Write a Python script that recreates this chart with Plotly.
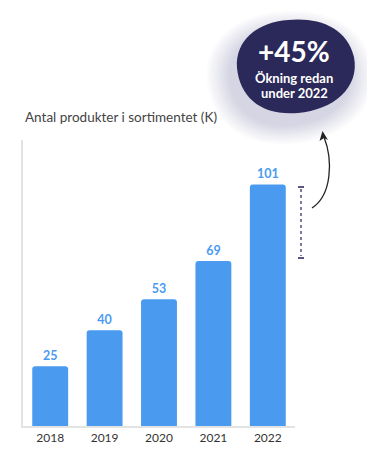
import plotly.graph_objects as go

years = ["2018", "2019", "2020", "2021", "2022"]
values = [25, 40, 53, 69, 101]
title_text = "Antal produkter i sortimentet (K)"
badge_big = "+45%"
badge_lines = ["Ökning redan", "under 2022"]

OFF = 8  # page body margin
W, H = 375 - OFF, 462 - OFF
L, R, T, B = 23, 295, 140, 426  # plot area in reference pixel coords

def px(x):
    return (x - L) / (R - L)

def py(y):
    return (B - y) / (B - T)

def blob_path(dx=0, dy=0, s=1.0, cx=295, cy=66):
    pts = [
        (288, 20),
        [(318, 17), (347, 27), (354, 57)],
        [(360, 88), (333, 110), (298, 113)],
        [(262, 116), (240, 98), (237, 68)],
        [(235, 40), (258, 22), (288, 20)],
    ]
    def tr(p):
        x = cx + (p[0] - cx) * s + dx
        y = cy + (p[1] - cy) * s + dy
        return f"{px(x):.5f},{py(y):.5f}"
    d = "M " + tr(pts[0])
    for seg in pts[1:]:
        d += " C " + " ".join(tr(p) for p in seg)
    return d + " Z"

fig = go.Figure()
fig.add_trace(go.Bar(
    x=years, y=values,
    marker=dict(color="#4a9bf0", line=dict(width=0)),
    text=[str(v) for v in values],
    textposition="outside",
    textfont=dict(color="#4a9bf0", size=12.5, family="Lato", weight="bold"),
    cliponaxis=False,
    hoverinfo="skip",
))

shapes = []
n = 14
for i in range(n):
    s = 1.42 - i * 0.03
    shapes.append(dict(type="path", xref="paper", yref="paper", path=blob_path(dx=-6, dy=11, s=s),
                       fillcolor="rgba(90,90,110,0.016)", line=dict(width=0), layer="above"))
shapes.append(dict(type="path", xref="paper", yref="paper", path=blob_path(),
                   fillcolor="#2b2959", line=dict(width=0), layer="above"))
# dotted range line
shapes.append(dict(type="line", xref="paper", yref="paper", x0=px(301), x1=px(301), y0=py(189), y1=py(256),
                   line=dict(color="#7c79a3", width=2, dash="dot")))
for yy in (187, 258):
    shapes.append(dict(type="line", xref="paper", yref="paper", x0=px(298), x1=px(304), y0=py(yy), y1=py(yy),
                       line=dict(color="#5a5785", width=2)))
# curved arrow
shapes.append(dict(type="path", xref="paper", yref="paper",
                   path=f"M {px(312)},{py(208)} C {px(332)},{py(195)} {px(333)},{py(160)} {px(324)},{py(137)}",
                   line=dict(color="#222222", width=1.3)))
shapes.append(dict(type="path", xref="paper", yref="paper",
                   path=f"M {px(322.5)},{py(131)} L {px(319.5)},{py(141)} L {px(324)},{py(138)} L {px(328)},{py(140)} Z",
                   fillcolor="#222222", line=dict(width=0)))

annotations = [
    dict(text=title_text, xref="paper", yref="paper", x=px(23), y=py(117), xanchor="left", yanchor="middle",
         showarrow=False, font=dict(size=13.5, color="#444444", family="Lato")),
    dict(text=f"<b>{badge_big}</b>", xref="paper", yref="paper", x=px(294), y=py(51), xanchor="center", yanchor="middle",
         showarrow=False, font=dict(size=28, color="white", family="Lato")),
]
for line_text, yy in zip(badge_lines, (78, 93)):
    annotations.append(dict(text=f"<b>{line_text}</b>", xref="paper", yref="paper", x=px(294), y=py(yy),
                            xanchor="center", yanchor="middle", showarrow=False,
                            font=dict(size=13, color="white", family="Lato")))

fig.update_layout(
    width=W, height=H,
    margin=dict(l=L - OFF, r=375 - R, t=T - OFF, b=462 - B),
    paper_bgcolor="white", plot_bgcolor="white",
    bargap=0.34, barcornerradius=3,
    showlegend=False,
    shapes=shapes, annotations=annotations,
    font=dict(family="Lato", color="#333333"),
    xaxis=dict(showline=True, linecolor="#e3e3e3", linewidth=1.5, showgrid=False, ticks="",
               tickfont=dict(size=12, color="#333333"), fixedrange=True),
    yaxis=dict(range=[0, 119.6], showline=True, linecolor="#e3e3e3", linewidth=1.5, showgrid=False,
               showticklabels=False, ticks="", zeroline=False, fixedrange=True),
)

fig.write_html("out.html", config={"displayModeBar": False})
